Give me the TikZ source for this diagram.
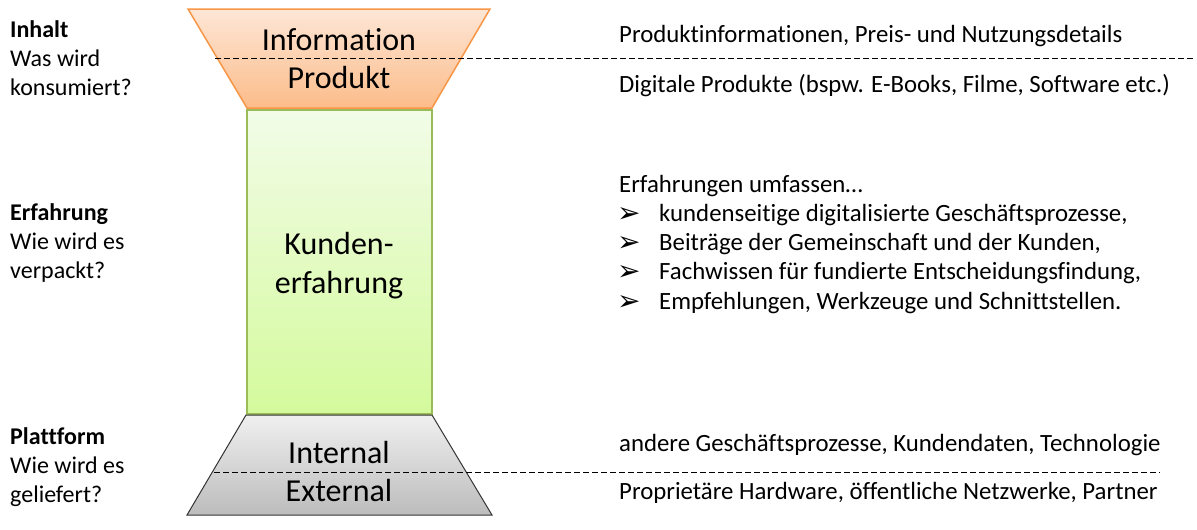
\documentclass[tikz,border=0pt]{standalone}
\usepackage{fontspec}
\setmainfont{Carlito}[Ligatures=NoCommon]
\newfontfamily\dingfont{DejaVu Sans}
\usetikzlibrary{positioning}

\definecolor{infoTop}{RGB}{253,230,214}
\definecolor{infoBot}{RGB}{252,188,138}
\definecolor{infoLine}{RGB}{247,150,70}
\definecolor{kundeTop}{RGB}{242,252,232}
\definecolor{kundeBot}{RGB}{212,250,156}
\definecolor{kundeLine}{RGB}{155,187,89}
\definecolor{platTop}{RGB}{240,240,240}
\definecolor{platBot}{RGB}{188,188,188}

\begin{document}
\begin{tikzpicture}[x=1pt,y=-1pt,
    sidetext/.style={anchor=base west, align=left, inner sep=0pt, font=\fontsize{24}{29}\selectfont},
    desc/.style={anchor=base west, inner sep=0pt, font=\fontsize{24.8}{29}\selectfont},
    funneltext/.style={anchor=base, inner sep=0pt, font=\fontsize{32}{39}\selectfont},
    sep/.style={dash pattern=on 6pt off 3pt, line width=1pt}]
  \useasboundingbox (0,0) rectangle (1197,530);

  % funnel
  \shade[top color=infoTop, bottom color=infoBot, draw=infoLine, line width=1.5pt]
    (188,9) -- (490,9) -- (432,108) -- (247,108) -- cycle;
  \shade[top color=kundeTop, bottom color=kundeBot, draw=kundeLine, line width=1.5pt]
    (247,110) rectangle (432,414);
  \shade[top color=platTop, bottom color=platBot, draw=black!80, line width=1pt]
    (246,415) -- (432,415) -- (492,515) -- (187,515) -- cycle;

  % separators
  \coordinate (infoL) at (215,58);
  \coordinate (infoR) at (1195,58);
  \coordinate (platL) at (214,472);
  \coordinate (platR) at (1160,472);
  \draw[sep] (infoL) -- (infoR);
  \draw[sep] (platL) -- (platR);

  % funnel labels
  \node[funneltext] (information) at (339,50) {Information};
  \node[funneltext] (produkt) at (339,88) {Produkt};
  \node[funneltext] (kunden) at (339,254) {Kunden-};
  \node[funneltext] (erfahrung) at (339,293) {erfahrung};
  \node[funneltext] (internal) at (339,463) {Internal};
  \node[funneltext] (external) at (339,501) {External};

  % left column (base = last line)
  \node[sidetext] (inhalt) at (10,95) {\textbf{Inhalt}\\Was wird\\konsumiert?};
  \node[sidetext] (erfahr) at (10,278) {\textbf{Erfahrung}\\Wie wird es\\verpackt?};
  \node[sidetext] (plattform) at (10,502) {\textbf{Plattform}\\Wie wird es\\geliefert?};

  % right column
  \node[desc] (infodesc) at (619,42) {Produktinformationen, Preis- und Nutzungsdetails};
  \node[desc] (produktdesc) at (619,92) {Digitale Produkte (bspw. E-Books, Filme, Software etc.)};
  \node[desc] (erfdesc) at (619,192) {Erfahrungen umfassen…};
  \foreach \txt [count=\i] in {kundenseitige digitalisierte Geschäftsprozesse{,},
      Beiträge der Gemeinschaft und der Kunden{,},
      Fachwissen für fundierte Entscheidungsfindung{,},
      Empfehlungen{,} Werkzeuge und Schnittstellen.} {
    \node[desc, font=\dingfont\fontsize{28}{30}\selectfont] (pfeil\i) at (617,193+29.3*\i) {➢};
    \node[desc] (punkt\i) at (659,192+29.3*\i) {\txt};
  }
  \node[desc] (internaldesc) at (619,451) {andere Geschäftsprozesse, Kundendaten, Technologie};
  \node[desc] (externaldesc) at (619,499) {Proprietäre Hardware, öffentliche Netzwerke, Partner};
\end{tikzpicture}
\end{document}
